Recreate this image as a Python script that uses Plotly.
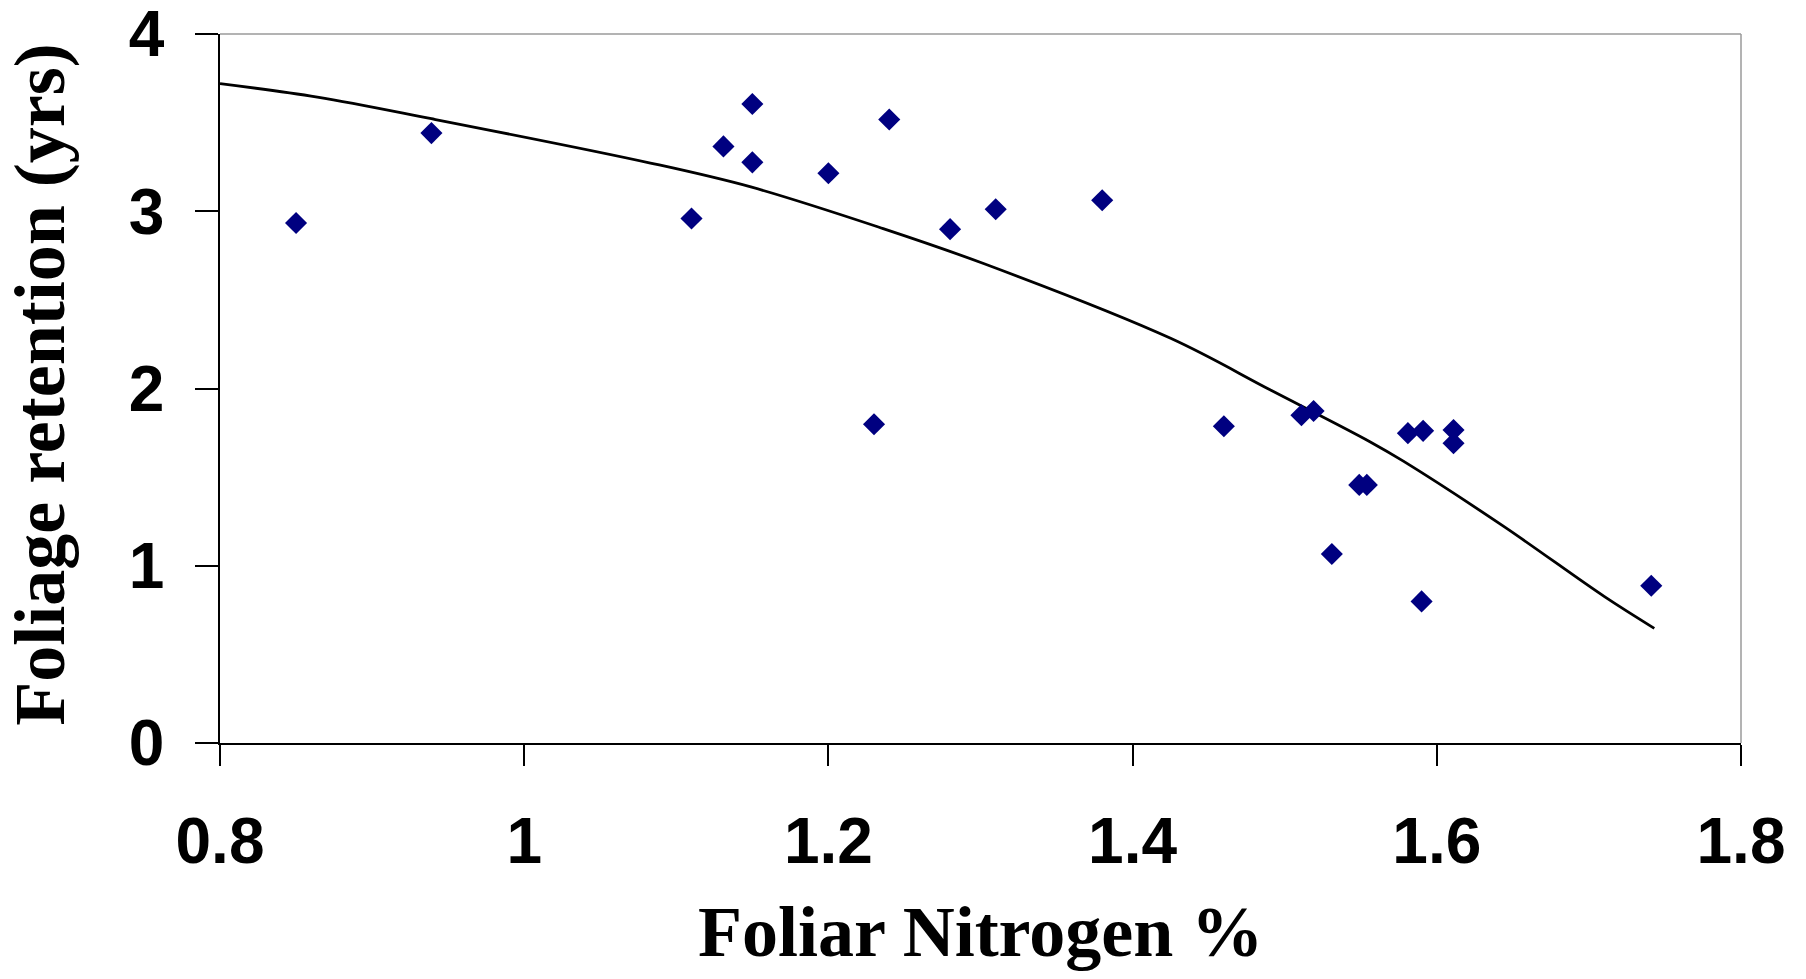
import plotly.graph_objects as go

# Observed data (Foliar N %, foliage retention in years)
nitrogen = [0.850, 0.939, 1.110, 1.131, 1.150, 1.150, 1.200, 1.240, 1.230, 1.280,
            1.310, 1.380, 1.460, 1.511, 1.519, 1.549, 1.554, 1.531, 1.581, 1.591,
            1.590, 1.611, 1.611, 1.741]
retention = [2.934, 3.441, 2.959, 3.366, 3.605, 3.276, 3.214, 3.518, 1.798, 2.899,
             3.011, 3.062, 1.787, 1.849, 1.873, 1.456, 1.456, 1.066, 1.748, 1.761,
             0.799, 1.766, 1.691, 0.887]

# Trend curve
trend_x = [0.800, 0.864, 0.939, 1.083, 1.149, 1.236, 1.302, 1.425, 1.491, 1.556,
           1.578, 1.644, 1.710, 1.743]
trend_y = [3.720, 3.644, 3.522, 3.272, 3.137, 2.902, 2.705, 2.283, 1.990, 1.700,
           1.590, 1.222, 0.827, 0.647]

x_ticks = [0.8, 1.0, 1.2, 1.4, 1.6, 1.8]
x_tick_text = ["0.8", "1", "1.2", "1.4", "1.6", "1.8"]
y_ticks = [0, 1, 2, 3, 4]
y_tick_text = ["0", "1", "2", "3", "4"]

x_title = "Foliar Nitrogen %"
y_title = "Foliage retention (yrs)"

tick_font = dict(family="Liberation Sans, Arial, sans-serif", size=64, color="black", weight="bold")
title_font = dict(family="Liberation Serif, Times New Roman, serif", size=72, color="black", weight="bold")

fig = go.Figure()
fig.add_trace(go.Scatter(x=trend_x, y=trend_y, mode="lines",
                         line=dict(color="black", width=2.8, shape="spline", smoothing=1.0),
                         hoverinfo="skip", showlegend=False))
fig.add_trace(go.Scatter(x=nitrogen, y=retention, mode="markers",
                         marker=dict(symbol="diamond", size=17, color="#000080"),
                         showlegend=False))

# The page body adds an 8 px margin, so the figure is 16 px smaller than the window.
fig.update_layout(
    width=1790, height=963,
    margin=dict(l=212, r=57, t=26, b=228, autoexpand=False),
    paper_bgcolor="white", plot_bgcolor="white",
    showlegend=False,
    xaxis=dict(range=[0.8, 1.8], tickvals=x_ticks, ticktext=x_tick_text,
               showgrid=False, zeroline=False, showline=True, linecolor="black", linewidth=1.5,
               ticks="outside", ticklen=21, tickwidth=1.5, tickcolor="black",
               tickfont=tick_font, ticklabelstandoff=20, automargin=False,
               ticklabeloverflow="allow"),
    yaxis=dict(range=[0, 4], tickvals=y_ticks, ticktext=y_tick_text,
               showgrid=False, zeroline=False, showline=True, linecolor="black", linewidth=1.5,
               ticks="outside", ticklen=23, tickwidth=1.5, tickcolor="black",
               tickfont=tick_font, ticklabelstandoff=18, automargin=False,
               ticklabeloverflow="allow"),
    shapes=[
        dict(type="line", xref="paper", yref="paper", x0=0, x1=1, y0=1, y1=1,
             line=dict(color="#9a9a9a", width=1.5)),
        dict(type="line", xref="paper", yref="paper", x0=1, x1=1, y0=0, y1=1,
             line=dict(color="#9a9a9a", width=1.5)),
    ],
    annotations=[
        dict(text=x_title, xref="paper", yref="paper", x=0.5, y=-0.2667,
             xanchor="center", yanchor="middle", showarrow=False, font=title_font),
        dict(text=y_title, xref="paper", yref="paper", x=-0.118, y=0.506, textangle=-90,
             xanchor="center", yanchor="middle", showarrow=False, font=title_font),
    ],
)

fig.write_html("out.html")
